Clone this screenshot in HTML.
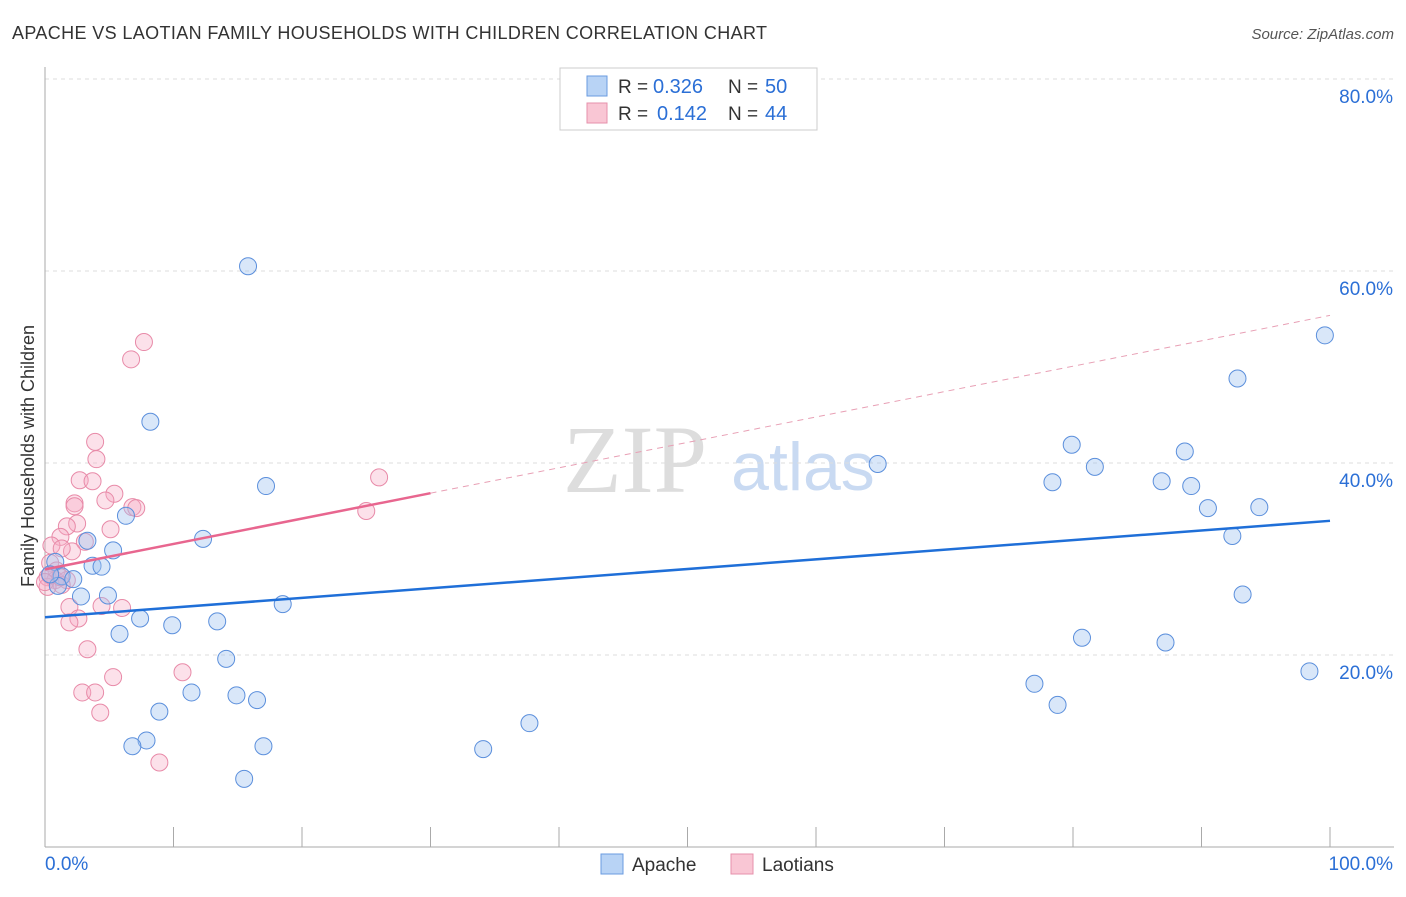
<!DOCTYPE html>
<html><head><meta charset="utf-8"><style>
body{margin:0;background:#fff;font-family:"Liberation Sans",sans-serif}
svg text{font-family:"Liberation Sans",sans-serif}
</style></head><body>
<svg id="c" width="1406" height="892">
<text x="12" y="39" font-size="18" fill="#333" textLength="755">APACHE VS LAOTIAN FAMILY HOUSEHOLDS WITH CHILDREN CORRELATION CHART</text>
<text x="1394" y="39" font-size="15" fill="#555" font-style="italic" text-anchor="end">Source: ZipAtlas.com</text>
<text x="635" y="492" font-size="96" fill="#ddd" font-family="Liberation Serif" text-anchor="middle" style="font-family:'Liberation Serif',serif">ZIP</text>
<text x="803" y="490" font-size="68" fill="#c9daf2" text-anchor="middle">atlas</text>
<g id="grid"></g><g id="marks"></g>
<text transform="translate(34,456) rotate(-90)" font-size="18" fill="#333" text-anchor="middle">Family Households with Children</text>
<g>
<rect x="560" y="68" width="257" height="62" fill="#fff" stroke="#ccc"/>
<rect x="587" y="76" width="20" height="20" fill="#b8d3f5" stroke="#6a9be0"/>
<rect x="587" y="103" width="20" height="20" fill="#f9c6d4" stroke="#e690ab"/>
<text x="618" y="93" font-size="19" fill="#333">R =</text><text x="653" y="93" font-size="20" fill="#2b6fd6">0.326</text>
<text x="728" y="93" font-size="19" fill="#333">N =</text><text x="765" y="93" font-size="20" fill="#2b6fd6">50</text>
<text x="618" y="120" font-size="19" fill="#333">R =</text><text x="657" y="120" font-size="20" fill="#2b6fd6">0.142</text>
<text x="728" y="120" font-size="19" fill="#333">N =</text><text x="765" y="120" font-size="20" fill="#2b6fd6">44</text>
</g>
<g>
<rect x="601" y="854" width="22" height="20" fill="#b8d3f5" stroke="#6a9be0"/>
<text x="632" y="871" font-size="19" fill="#333">Apache</text>
<rect x="731" y="854" width="22" height="20" fill="#f9c6d4" stroke="#e690ab"/>
<text x="762" y="871" font-size="19" fill="#333">Laotians</text>
</g>
</svg>
<script>
const yTicks=[20,40,60,80];
const yTickLabels=["20.0%","40.0%","60.0%","80.0%"];
const xTickLabels=["0.0%","100.0%"];
const apacheX=[15.8,8.2,6.3,5.3,3.3,3.7,4.4,0.8,1.3,2.2,1.0,2.8,4.9,5.8,7.4,9.9,13.4,12.3,17.2,18.5,14.1,11.4,14.9,16.5,8.9,7.9,6.8,17.0,15.5,34.1,37.7,64.8,79.9,81.7,78.4,86.9,88.7,89.2,90.5,94.5,92.4,93.2,92.8,99.6,80.7,87.2,77.0,78.8,98.4,0.4];
const apacheY=[60.5,44.3,34.5,30.9,31.9,29.3,29.2,29.7,28.2,27.9,27.2,26.1,26.2,22.2,23.8,23.1,23.5,32.1,37.6,25.3,19.6,16.1,15.8,15.3,14.1,11.1,10.5,10.5,7.1,10.2,12.9,39.9,41.9,39.6,38.0,38.1,41.2,37.6,35.3,35.4,32.4,26.3,48.8,53.3,21.8,21.3,17.0,14.8,18.3,28.4];
const laoX=[7.7,6.7,3.9,4.0,2.7,3.7,5.4,2.3,2.3,4.7,6.8,7.1,26.0,25.0,2.5,1.7,5.1,1.2,3.1,0.5,2.1,1.3,0.4,0.9,0.2,0.8,1.7,1.3,0.2,4.4,6.0,1.9,2.6,1.9,3.3,10.7,5.3,2.9,3.9,4.3,8.9,0.4,1.2,0.0];
const laoY=[52.6,50.8,42.2,40.4,38.2,38.1,36.8,35.8,35.5,36.1,35.4,35.3,38.5,35.0,33.7,33.4,33.1,32.3,31.8,31.4,30.8,31.1,29.6,28.8,28.1,27.8,27.8,27.3,27.1,25.1,24.9,25.0,23.8,23.4,20.6,18.2,17.7,16.1,16.1,14.0,8.8,28.3,28.1,27.6];
const NS="http://www.w3.org/2000/svg";
const L=45,R=1330,T=79,B=847;
const sx=v=>L+(R-L)*v/100, sy=v=>B-(B-T)*v/80;
function mk(t,a,p){const e=document.createElementNS(NS,t);for(const k in a)e.setAttribute(k,a[k]);document.getElementById(p).appendChild(e);return e;}
yTicks.forEach((t,i)=>{
 const g=mk('line',{x1:L,x2:1394,y1:sy(t),y2:sy(t),stroke:'#ddd','stroke-dasharray':'4,4'},'grid');
 
 
 const tx=mk('text',{x:1393,y:sy(t)+24,'font-size':19,fill:'#2b6fd6','text-anchor':'end'},'grid');tx.textContent=yTickLabels[i];
 
 
});
const ax=mk('line',{x1:L,x2:L,y1:67,y2:B,stroke:'#aaa'},'grid');


const bx=mk('line',{x1:L,x2:1394,y1:B,y2:B,stroke:'#aaa'},'grid');


for(let i=0;i<=10;i++){const t=mk('line',{x1:sx(i*10),x2:sx(i*10),y1:B,y2:B-20,stroke:'#aaa'},'grid');
 
 }
[[0,'start',45],[100,'end',1393]].forEach((d,i)=>{const t=mk('text',{x:d[2],y:870,'font-size':19,fill:'#2b6fd6','text-anchor':d[1]},'grid');t.textContent=xTickLabels[i];
 
 });
function fit(X,Y){const n=X.length;let mx=0,my=0;X.forEach((v,i)=>{mx+=v;my+=Y[i]});mx/=n;my/=n;let sxy=0,sxx=0;X.forEach((v,i)=>{sxy+=(v-mx)*(Y[i]-my);sxx+=(v-mx)*(v-mx)});const b=sxy/sxx;return [my-b*mx,b];}
laoX.forEach((v,i)=>{const c=mk('circle',{cx:sx(v),cy:sy(laoY[i]),r:8.5,fill:'rgba(246,170,195,0.35)',stroke:'#e88aa8','stroke-width':1},'marks');
 
 });
apacheX.forEach((v,i)=>{const c=mk('circle',{cx:sx(v),cy:sy(apacheY[i]),r:8.5,fill:'rgba(160,195,240,0.4)',stroke:'#5b8fdc','stroke-width':1},'marks');
 
 });
const fb=fit(apacheX,apacheY);
const lb=mk('line',{x1:sx(0),y1:sy(fb[0]),x2:sx(100),y2:sy(fb[0]+fb[1]*100),stroke:'#1f6fd8','stroke-width':2.5},'marks');


const fp=fit(laoX,laoY);const xm=Math.max(...laoX)+4;
const lp=mk('line',{x1:sx(0),y1:sy(fp[0]),x2:sx(xm),y2:sy(fp[0]+fp[1]*xm),stroke:'#e8668f','stroke-width':2.5},'marks');


const ld=mk('line',{x1:sx(xm),y1:sy(fp[0]+fp[1]*xm),x2:sx(100),y2:sy(fp[0]+fp[1]*100),stroke:'#e8a0b5','stroke-width':1,'stroke-dasharray':'6,5'},'marks');


</script>
</body></html>
